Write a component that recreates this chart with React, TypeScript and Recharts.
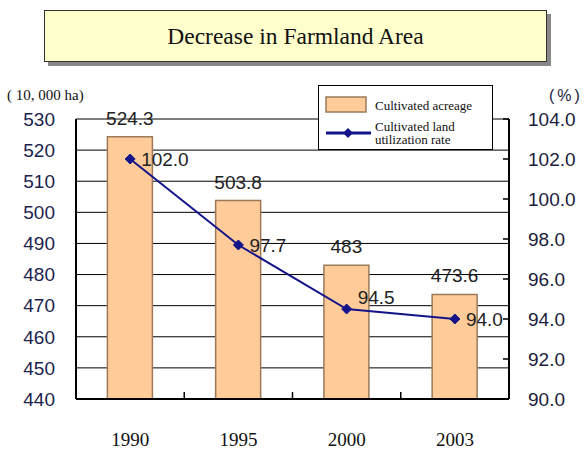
import {
  Bar,
  CartesianGrid,
  ComposedChart,
  LabelList,
  Legend,
  Line,
  XAxis,
  YAxis,
} from "recharts";

const years = ["1990", "1995", "2000", "2003"];
const acreage = [524.3, 503.8, 483, 473.6];
const utilization = [102.0, 97.7, 94.5, 94.0];
const leftTicks = [440, 450, 460, 470, 480, 490, 500, 510, 520, 530];
const rightTicks = [90, 92, 94, 96, 98, 100, 102, 104];

const chartData = years.map((year, i) => ({
  year,
  acreage: acreage[i],
  utilization: utilization[i],
}));

const sans = "'Liberation Sans', Arial, sans-serif";
const serif = "'Liberation Serif', 'Times New Roman', serif";
const navy = "#14148a";
const plotWidth = 588 - 76 - 79;

const XTick = (props: any) => {
  const { x, y, payload, index } = props;
  const axisY = y - 34;
  const half = plotWidth / years.length / 2;
  return (
    <g>
      {index < years.length - 1 ? (
        <line x1={x + half} x2={x + half} y1={axisY} y2={axisY - 7} stroke="#000" strokeWidth={1.5} />
      ) : null}
      <text x={x} y={y} dy="0.71em" textAnchor="middle" fontFamily={serif} fontSize={19} fill="#111">
        {payload.value}
      </text>
    </g>
  );
};

const RightTick = (props: any) => {
  const { x, y, payload } = props;
  const axisX = x - 19;
  return (
    <g>
      <line x1={axisX - 6} x2={axisX} y1={y} y2={y} stroke="#000" strokeWidth={1.5} />
      <text x={x} y={y} dy="0.36em" textAnchor="start" fontFamily={sans} fontSize={19} fill="#1c1c3c">
        {Number(payload.value).toFixed(1)}
      </text>
    </g>
  );
};

const Diamond = (props: any) => {
  const { cx, cy } = props;
  if (cx == null || cy == null) return null;
  const r = 5;
  return (
    <polygon
      points={`${cx},${cy - r} ${cx + r},${cy} ${cx},${cy + r} ${cx - r},${cy}`}
      fill={navy}
      stroke={navy}
    />
  );
};

const RateLabel = (props: any) => {
  const { x, y, value, index } = props;
  const lift = index === 2 ? -12 : 0;
  return (
    <text x={x + 11} y={y + lift} dy="0.36em" fontFamily={sans} fontSize={19} fill="#222">
      {Number(value).toFixed(1)}
    </text>
  );
};

const LegendBox = (props: any) => {
  const items = props.payload || [];
  return (
    <div
      style={{
        width: 175,
        height: 65,
        boxSizing: "border-box",
        background: "#fff",
        border: "1px solid #000",
        fontFamily: serif,
        fontSize: 13,
        color: "#111",
        position: "relative",
      }}
    >
      {items.map((item: any, i: number) => (
        <div
          key={item.value}
          style={{ position: "absolute", left: 6, top: i === 0 ? 10 : 34, display: "flex", alignItems: "center" }}
        >
          <svg width={48} height={18}>
            {item.type === "rect" ? (
              <rect x={1} y={1} width={40} height={15} fill="#ffcc99" stroke="#9a7a5a" strokeWidth={1.5} />
            ) : (
              <g>
                <line x1={1} x2={46} y1={9} y2={9} stroke={navy} strokeWidth={3} />
                <polygon points="23,4 28,9 23,14 18,9" fill={navy} />
              </g>
            )}
          </svg>
          <span style={{ marginLeft: 2, lineHeight: "13px", width: 110 }}>{item.value}</span>
        </div>
      ))}
    </div>
  );
};

export default function App() {
  return (
    <div style={{ position: "absolute", left: 0, top: 0, width: 588, height: 449, background: "#fff" }}>
      <div
        style={{
          position: "absolute",
          left: 44,
          top: 10,
          width: 503,
          height: 52,
          boxSizing: "border-box",
          background: "#ffffcc",
          border: "1px solid #333",
          boxShadow: "4px 4px 0 #888",
          fontFamily: serif,
          fontSize: 23.5,
          color: "#111",
          display: "flex",
          alignItems: "center",
          justifyContent: "center",
        }}
      >
        Decrease in Farmland Area
      </div>
      <div style={{ position: "absolute", left: 7, top: 87, fontFamily: serif, fontSize: 15, color: "#111" }}>
        ( 10, 000 ha)
      </div>
      <div
        style={{
          position: "absolute",
          left: 549,
          top: 87,
          fontFamily: sans,
          fontSize: 16,
          letterSpacing: 3,
          color: "#1c1c3c",
          whiteSpace: "nowrap",
        }}
      >
        (%)
      </div>
      <ComposedChart
        width={588}
        height={449}
        data={chartData}
        barCategoryGap="29%"
        margin={{ top: 119, right: 0, bottom: 0, left: 0 }}
      >
        <CartesianGrid vertical={false} stroke="#000" yAxisId="left" />
        <XAxis
          dataKey="year"
          height={50}
          tickLine={false}
          tickSize={0}
          tickMargin={34}
          axisLine={{ stroke: "#000", strokeWidth: 2 }}
          tick={<XTick />}
          interval={0}
        />
        <YAxis
          yAxisId="left"
          width={76}
          domain={[440, 530]}
          ticks={leftTicks}
          interval={0}
          tickLine={false}
          tickSize={0}
          tickMargin={21}
          axisLine={{ stroke: "#000", strokeWidth: 2 }}
          tick={{ fontFamily: sans, fontSize: 19, fill: "#1c2350" }}
        />
        <YAxis
          yAxisId="right"
          orientation="right"
          width={79}
          domain={[90, 104]}
          ticks={rightTicks}
          interval={0}
          tickLine={false}
          tickSize={0}
          tickMargin={19}
          axisLine={{ stroke: "#000", strokeWidth: 2 }}
          tick={<RightTick />}
        />
        <Legend
          layout="vertical"
          align="center"
          verticalAlign="middle"
          content={<LegendBox />}
          wrapperStyle={{ position: "absolute", left: 318, top: 85, width: 175, height: 65 }}
        />
        <Bar
          yAxisId="left"
          dataKey="acreage"
          name="Cultivated acreage"
          fill="#ffcc99"
          stroke="#9a7a5a"
          strokeWidth={1.5}
          legendType="rect"
          isAnimationActive={false}
        >
          <LabelList
            dataKey="acreage"
            position="top"
            offset={12}
            style={{ fontFamily: sans, fontSize: 19, fill: "#222" }}
          />
        </Bar>
        <Line
          yAxisId="right"
          dataKey="utilization"
          name="Cultivated land utilization rate"
          type="linear"
          stroke={navy}
          strokeWidth={2}
          dot={<Diamond />}
          activeDot={false}
          legendType="diamond"
          isAnimationActive={false}
        >
          <LabelList dataKey="utilization" content={<RateLabel />} />
        </Line>
      </ComposedChart>
    </div>
  );
}
